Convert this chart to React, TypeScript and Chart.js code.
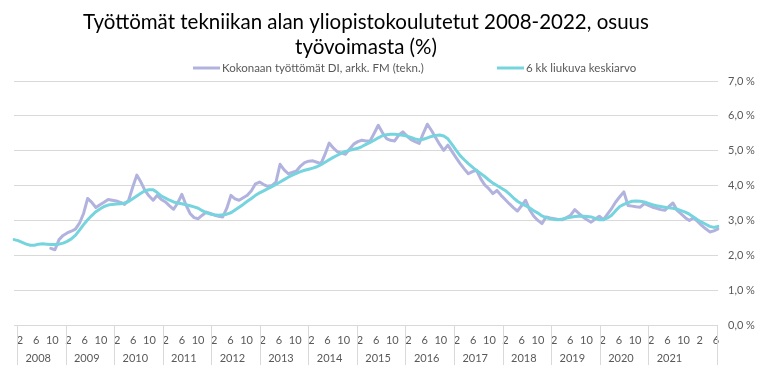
import React, { useEffect, useRef } from 'react';
import { Chart, registerables } from 'chart.js';

Chart.register(...registerables);

const TITLE_LINES = ['Työttömät tekniikan alan yliopistokoulutetut 2008-2022, osuus', 'työvoimasta (%)'];
const SERIES_NAMES = ['Kokonaan työttömät DI, arkk. FM (tekn.)', '6 kk liukuva keskiarvo'];
const YEAR_LABELS = ['2008', '2009', '2010', '2011', '2012', '2013', '2014', '2015', '2016', '2017', '2018', '2019', '2020', '2021'];
const MONTH_CYCLE = ['2', '3', '4', '5', '6', '7', '8', '9', '10', '11', '12', '1'];
const MONTH_COUNT = 173;
const MONTH_LABELS: string[] = Array.from({ length: MONTH_COUNT }, (_, i) => MONTH_CYCLE[i % 12]);

// Kokonaan työttömät DI, arkk. FM (tekn.) — %
const RAW: (number | null)[] = [
  null, null, null, null, null, null, null, null, null, 2.20, 2.16, 2.45,
  2.57, 2.64, 2.69, 2.75, 2.92, 3.20, 3.63, 3.52, 3.37, 3.45, 3.52, 3.60,
  3.58, 3.56, 3.52, 3.46, 3.58, 3.95, 4.30, 4.10, 3.86, 3.70, 3.58, 3.72,
  3.60, 3.53, 3.42, 3.32, 3.50, 3.75, 3.45, 3.20, 3.08, 3.05, 3.15, 3.24,
  3.20, 3.15, 3.12, 3.10, 3.35, 3.72, 3.62, 3.58, 3.65, 3.72, 3.85, 4.05,
  4.10, 4.03, 3.98, 4.00, 4.10, 4.61, 4.45, 4.34, 4.38, 4.42, 4.56, 4.66,
  4.70, 4.71, 4.67, 4.63, 4.90, 5.22, 5.08, 4.97, 4.93, 4.90, 5.05, 5.19,
  5.26, 5.30, 5.28, 5.28, 5.50, 5.73, 5.52, 5.35, 5.30, 5.28, 5.45, 5.54,
  5.42, 5.32, 5.26, 5.21, 5.50, 5.76, 5.58, 5.38, 5.18, 5.01, 5.16, 4.98,
  4.80, 4.63, 4.48, 4.34, 4.40, 4.44, 4.20, 4.02, 3.91, 3.77, 3.86, 3.72,
  3.60, 3.48, 3.37, 3.27, 3.42, 3.58, 3.30, 3.12, 3.00, 2.91, 3.10, 3.07,
  3.05, 3.03, 3.02, 3.08, 3.15, 3.31, 3.20, 3.10, 3.02, 2.95, 3.04, 3.12,
  3.02, 3.18, 3.34, 3.53, 3.68, 3.82, 3.43, 3.41, 3.39, 3.38, 3.48, 3.43,
  3.38, 3.35, 3.31, 3.29, 3.40, 3.50, 3.29, 3.19, 3.08, 3.00, 3.08, 2.97,
  2.86, 2.76, 2.67, 2.70, 2.76,
];

// 6 kk liukuva keskiarvo — %
const MA6: number[] = [
  2.45, 2.42, 2.37, 2.32, 2.29, 2.29, 2.32, 2.33, 2.32, 2.31, 2.31, 2.32,
  2.35, 2.40, 2.47, 2.57, 2.72, 2.88, 3.02, 3.14, 3.25, 3.33, 3.40, 3.44,
  3.46, 3.47, 3.48, 3.50, 3.54, 3.62, 3.70, 3.78, 3.85, 3.88, 3.88, 3.80,
  3.70, 3.64, 3.58, 3.53, 3.50, 3.48, 3.45, 3.42, 3.39, 3.35, 3.28, 3.22,
  3.18, 3.16, 3.15, 3.16, 3.18, 3.22, 3.30, 3.38, 3.46, 3.55, 3.63, 3.72,
  3.79, 3.85, 3.91, 3.97, 4.03, 4.10, 4.17, 4.24, 4.30, 4.35, 4.40, 4.44,
  4.47, 4.50, 4.54, 4.60, 4.67, 4.74, 4.81, 4.87, 4.93, 4.98, 5.01, 5.04,
  5.07, 5.12, 5.18, 5.24, 5.30, 5.37, 5.43, 5.46, 5.47, 5.47, 5.46, 5.44,
  5.42, 5.38, 5.34, 5.31, 5.33, 5.37, 5.41, 5.44, 5.45, 5.42, 5.34, 5.18,
  5.02, 4.86, 4.74, 4.63, 4.53, 4.43, 4.35, 4.26, 4.16, 4.07, 4.00, 3.93,
  3.86, 3.76, 3.65, 3.55, 3.48, 3.42, 3.36, 3.28, 3.21, 3.13, 3.08, 3.05,
  3.03, 3.02, 3.04, 3.07, 3.09, 3.11, 3.12, 3.12, 3.11, 3.10, 3.06, 3.02,
  3.02, 3.07, 3.15, 3.28, 3.40, 3.46, 3.51, 3.55, 3.56, 3.55, 3.53, 3.49,
  3.45, 3.42, 3.40, 3.38, 3.36, 3.35, 3.32, 3.28, 3.24, 3.18, 3.10, 3.02,
  2.95, 2.89, 2.83, 2.80, 2.83,
];

const FONT = 'Lato, "Liberation Sans", sans-serif';
const TEXT_GRAY = '#595959';
const GRID_GRAY = '#d9d9d9';
const RAW_COLOR = 'rgb(178, 178, 222)';
const MA_COLOR = 'rgb(118, 212, 222)';
const LEGEND_X = [193, 497];
const LEGEND_Y = 68;
// label-axis range (in month index units) used by the multi-level category labels
const LABEL_AXIS_MIN = -1.48;
const LABEL_AXIS_MAX = MONTH_COUNT - 0.5;

const decorPlugin = {
  id: 'decor',
  afterDraw(chart: any) {
    const ctx = chart.ctx;
    const xs = chart.scales.xYear;
    const area = chart.chartArea;
    ctx.save();
    ctx.strokeStyle = GRID_GRAY;
    ctx.lineWidth = 1;
    const bounds = YEAR_LABELS.map((_, k) => 12 * k - 0.5).concat([LABEL_AXIS_MAX]);
    bounds.forEach((v) => {
      const x = Math.round(xs.getPixelForValue(v)) - 0.5;
      ctx.beginPath();
      ctx.moveTo(x, area.bottom);
      ctx.lineTo(x, area.bottom + 40);
      ctx.stroke();
    });
    ctx.font = `11.5px ${FONT}`;
    ctx.textBaseline = 'middle';
    ctx.textAlign = 'left';
    chart.data.datasets.forEach((ds: any, i: number) => {
      const x0 = LEGEND_X[i];
      ctx.strokeStyle = ds.borderColor;
      ctx.lineWidth = 3;
      ctx.beginPath();
      ctx.moveTo(x0, LEGEND_Y);
      ctx.lineTo(x0 + 27, LEGEND_Y);
      ctx.stroke();
      ctx.fillStyle = TEXT_GRAY;
      ctx.fillText(ds.label, x0 + 29, LEGEND_Y);
    });
    ctx.restore();
  },
};

export default function App() {
  const ref = useRef<HTMLCanvasElement | null>(null);

  useEffect(() => {
    document.body.style.margin = '0';
    const canvas = ref.current;
    if (!canvas) return;
    const chart = new Chart(canvas, {
      type: 'line',
      data: {
        labels: MONTH_LABELS,
        datasets: [
          {
            label: SERIES_NAMES[0],
            data: RAW,
            borderColor: RAW_COLOR,
            backgroundColor: RAW_COLOR,
            borderWidth: 3,
            pointRadius: 0,
            tension: 0,
            borderJoinStyle: 'round',
            borderCapStyle: 'round',
            order: 2,
            xAxisID: 'x',
            yAxisID: 'y',
          },
          {
            label: SERIES_NAMES[1],
            data: MA6,
            borderColor: MA_COLOR,
            backgroundColor: MA_COLOR,
            borderWidth: 3,
            pointRadius: 0,
            tension: 0,
            borderJoinStyle: 'round',
            borderCapStyle: 'round',
            order: 1,
            xAxisID: 'x',
            yAxisID: 'y',
          },
        ],
      },
      options: {
        responsive: false,
        animation: false,
        devicePixelRatio: 1,
        layout: { padding: { left: 14, right: 0, top: 0, bottom: 0 } },
        plugins: {
          legend: { display: false },
          tooltip: { enabled: false },
          title: {
            display: true,
            text: TITLE_LINES,
            fullSize: false,
            color: '#000000',
            font: { family: FONT, size: 20.5, weight: 'normal', lineHeight: '25px' },
            padding: { top: 10, bottom: 21 },
          },
        },
        scales: {
          x: {
            type: 'category',
            display: false,
            offset: false,
          },
          xMonth: {
            type: 'linear',
            position: 'bottom',
            min: LABEL_AXIS_MIN,
            max: LABEL_AXIS_MAX,
            weight: 1,
            grid: { display: false, drawTicks: false },
            border: { display: false },
            afterBuildTicks: (scale: any) => {
              scale.ticks = MONTH_LABELS.map((_, i) => i)
                .filter((i) => i % 4 === 0)
                .map((i) => ({ value: i }));
            },
            ticks: {
              autoSkip: false,
              maxRotation: 0,
              minRotation: 0,
              padding: 9,
              color: TEXT_GRAY,
              font: { family: FONT, size: 11 },
              callback: (value: any) => MONTH_LABELS[Math.round(Number(value))] ?? '',
            },
            afterFit: (scale: any) => {
              scale.height = 24;
            },
          },
          xYear: {
            type: 'linear',
            position: 'bottom',
            min: LABEL_AXIS_MIN,
            max: LABEL_AXIS_MAX,
            weight: 2,
            grid: { display: false, drawTicks: false },
            border: { display: false },
            afterBuildTicks: (scale: any) => {
              scale.ticks = YEAR_LABELS.map((_, k) => ({ value: 12 * k + 4.5 }));
            },
            ticks: {
              autoSkip: false,
              maxRotation: 0,
              minRotation: 0,
              padding: 3,
              color: TEXT_GRAY,
              font: { family: FONT, size: 11 },
              callback: (value: any) => YEAR_LABELS[Math.round((Number(value) - 4.5) / 12)] ?? '',
            },
            afterFit: (scale: any) => {
              scale.height = 30;
            },
          },
          y: {
            type: 'linear',
            position: 'right',
            min: 0,
            max: 7,
            grid: { color: GRID_GRAY, lineWidth: 1, drawTicks: false },
            border: { display: false },
            ticks: {
              stepSize: 1,
              padding: 10,
              color: TEXT_GRAY,
              font: { family: FONT, size: 11 },
              callback: (value: any) => Number(value).toFixed(1).replace('.', ',') + ' %',
            },
            afterFit: (scale: any) => {
              scale.width = 50;
            },
          },
        },
      },
      plugins: [decorPlugin],
    } as any);
    return () => chart.destroy();
  }, []);

  return (
    <div style={{ width: 768, height: 379 }}>
      <canvas ref={ref} width={768} height={379} style={{ display: 'block' }} />
    </div>
  );
}
